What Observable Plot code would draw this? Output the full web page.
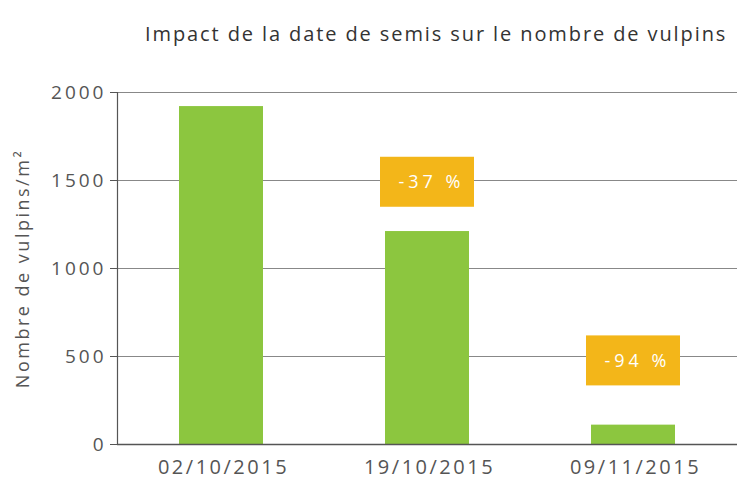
<!DOCTYPE html>
<html><head><meta charset="utf-8">
<script src="https://cdn.jsdelivr.net/npm/d3@7"></script>
<script src="https://cdn.jsdelivr.net/npm/@observablehq/plot@0.6"></script>
<style>
body{margin:0;background:#fff;font-family:"Open Sans",sans-serif;}
#title{height:70px;box-sizing:border-box;padding-top:20px;padding-left:145px;font-size:20px;color:#333;letter-spacing:1.9px;white-space:nowrap;}
g[aria-label="y-axis tick label"] text{letter-spacing:3px;}
g[aria-label="x-axis tick label"] text{letter-spacing:2.5px;}
g.ylabel text{letter-spacing:2.5px;}
g.changes text{letter-spacing:4px;}
</style></head>
<body>
<div id="title">Impact de la date de semis sur le nombre de vulpins</div>
<div id="chart"></div>
<script>
const dates = ["02/10/2015", "19/10/2015", "09/11/2015"];
const vulpins = [1920, 1210, 110];
const changeLabels = ["-37 %", "-94 %"];
const changeDates = ["19/10/2015", "09/11/2015"];
const changeLabelY = [1490, 475];
const yTicks = [0, 500, 1000, 1500, 2000];

const bars = dates.map((d, i) => ({date: d, value: vulpins[i]}));
const labels = changeLabels.map((l, i) => ({date: changeDates[i], text: l, y: changeLabelY[i]}));

const chart = Plot.plot({
  width: 741,
  height: 414,
  marginTop: 22,
  marginBottom: 40,
  marginLeft: 117,
  marginRight: 4,
  style: {fontFamily: "Open Sans, sans-serif", fontSize: "19px", color: "#555", background: "#fff"},
  x: {domain: dates, paddingInner: 0.59, paddingOuter: 0.295, label: null},
  y: {domain: [0, 2000], ticks: yTicks},
  marks: [
    Plot.gridY(yTicks, {stroke: "#888", strokeOpacity: 1, strokeWidth: 1.2}),
    Plot.barY(bars, {x: "date", y: "value", fill: "#8CC63F"}),
    Plot.barY(labels, {x: "date", y1: "y", y2: "y", fill: "#F3B619", insetLeft: -5, insetRight: -5, insetTop: -25, insetBottom: -25}),
    Plot.text(labels, {x: "date", y: "y", text: "text", fill: "#fff", fontSize: 18, dx: 4, className: "changes"}),
    Plot.ruleY([0], {stroke: "#555", strokeWidth: 1.5}),
    Plot.frame({anchor: "left", stroke: "#555", strokeWidth: 1.2}),
    Plot.axisY(yTicks, {tickSize: 7, tickPadding: 4, fontSize: 19, tickFormat: d => String(d), label: null}),
    Plot.text(["Nombre de vulpins/m²"], {frameAnchor: "left", textAnchor: "middle", dx: -94, rotate: -90, fontSize: 18, fill: "#555", className: "ylabel"}),
    Plot.axisX({tickSize: 0, tickPadding: 15, fontSize: 20, label: null, dx: 2})
  ]
});
document.getElementById("chart").appendChild(chart);
</script>
</body></html>
